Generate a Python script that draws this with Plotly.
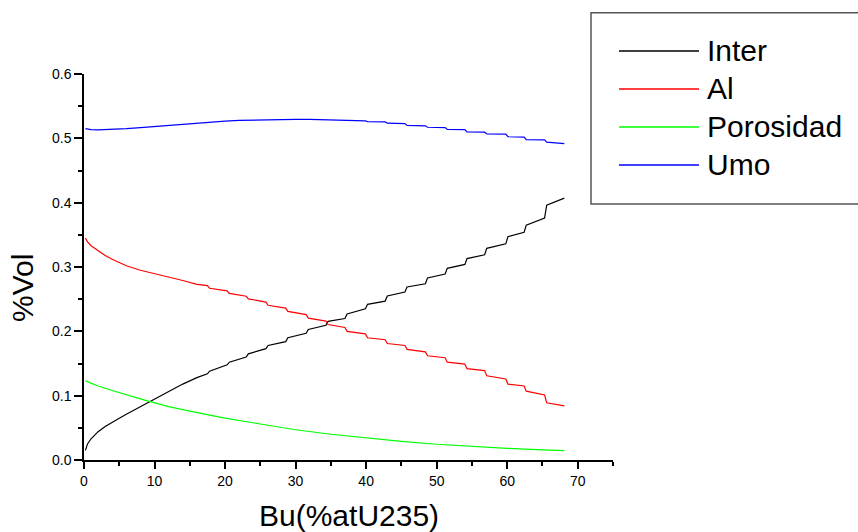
import plotly.graph_objects as go

# ---------------- data ----------------
inter_x = [0.2, 0.5, 1, 2, 3, 4, 5, 6, 8, 9, 10, 12, 14, 16,
           17.5, 17.8, 20.3, 20.6, 23.0, 23.3, 25.8, 26.1, 28.6, 28.9, 31.5, 31.8,
           34.3, 34.6, 37.0, 37.3, 39.9, 40.2, 42.7, 43.0, 45.5, 45.8, 48.4, 48.7,
           51.2, 51.5, 54.0, 54.3, 56.8, 57.1, 59.8, 60.1, 62.4, 62.7, 65.3, 65.6, 68.1]
inter_y = [0.015, 0.025, 0.033, 0.044, 0.052, 0.059, 0.065, 0.071, 0.083, 0.089, 0.095, 0.107, 0.118, 0.128,
           0.134, 0.138, 0.148, 0.152, 0.160, 0.165, 0.173, 0.178, 0.184, 0.190, 0.197, 0.203,
           0.2095, 0.2155, 0.220, 0.227, 0.235, 0.242, 0.247, 0.255, 0.261, 0.269, 0.274, 0.283,
           0.289, 0.298, 0.304, 0.313, 0.319, 0.329, 0.336, 0.347, 0.354, 0.365, 0.376, 0.396, 0.407]

al_x = [0.2, 0.5, 1, 2, 3, 4, 6, 8, 10, 12, 14, 16,
        17.5, 17.8, 20.3, 20.6, 23.0, 23.3, 25.8, 26.1, 28.6, 28.9, 31.5, 31.8,
        34.3, 34.6, 37.0, 37.3, 39.9, 40.2, 42.7, 43.0, 45.5, 45.8, 48.4, 48.7,
        51.2, 51.5, 54.0, 54.3, 56.8, 57.1, 59.8, 60.1, 62.4, 62.7, 65.3, 65.6, 68.1]
al_y = [0.345, 0.339, 0.333, 0.325, 0.318, 0.312, 0.302, 0.295, 0.290, 0.284, 0.279, 0.273,
        0.271, 0.267, 0.263, 0.259, 0.2545, 0.2505, 0.2455, 0.2405, 0.236, 0.231, 0.226, 0.2205,
        0.216, 0.2105, 0.206, 0.200, 0.196, 0.190, 0.187, 0.181, 0.178, 0.172, 0.168, 0.162,
        0.159, 0.152, 0.149, 0.142, 0.139, 0.131, 0.126, 0.118, 0.115, 0.107, 0.101, 0.089, 0.084]

por_x = [0.2, 2, 4, 6, 8, 9, 10, 12, 15, 20, 25, 30, 35, 40, 45, 50, 55, 60, 65, 68.1]
por_y = [0.123, 0.115, 0.108, 0.101, 0.095, 0.092, 0.089, 0.083, 0.076, 0.065, 0.056, 0.047,
         0.040, 0.034, 0.029, 0.0245, 0.021, 0.018, 0.0158, 0.0145]

umo_x = [0.2, 1, 2, 4, 6, 8, 10, 12, 14, 16, 18, 20, 22, 24, 26, 28, 30, 32, 34, 36, 38,
         39.9, 40.2, 42.7, 43.0, 45.5, 45.8, 48.4, 48.7, 51.2, 51.5, 54.0, 54.3,
         56.8, 57.1, 59.8, 60.1, 62.4, 62.7, 65.3, 65.6, 68.1]
umo_y = [0.515, 0.5135, 0.513, 0.5135, 0.515, 0.5168, 0.5185, 0.5205, 0.5225, 0.524, 0.5255,
         0.5268, 0.5278, 0.5285, 0.529, 0.5293, 0.5295, 0.5295, 0.529, 0.5283, 0.5276,
         0.527, 0.526, 0.5255, 0.5235, 0.523, 0.520, 0.5195, 0.5172, 0.5168, 0.5138, 0.5135, 0.510,
         0.5095, 0.5068, 0.5065, 0.5025, 0.502, 0.498, 0.4975, 0.494, 0.4918]

series_names = ["Inter", "Al", "Porosidad", "Umo"]
series_colors = ["#000000", "#FF0000", "#00FF00", "#0000FF"]
series_x = [inter_x, al_x, por_x, umo_x]
series_y = [inter_y, al_y, por_y, umo_y]

x_title = "Bu(%atU235)"
y_title = "%Vol"

# ---------------- figure ----------------
W, H = 858, 532
ML, MR, MT, MB = 84, 245, 74, 72
PW, PH = W - ML - MR, H - MT - MB
FONT = "Liberation Sans, Arial, sans-serif"

def px_x(p):
    return (p - ML) / PW

def px_y(p):
    return (H - MB - p) / PH

fig = go.Figure()
for name, color, xs, ys in zip(series_names, series_colors, series_x, series_y):
    fig.add_trace(go.Scatter(x=xs, y=ys, mode="lines", name=name,
                             line=dict(color=color, width=1.2), showlegend=False))

axis_common = dict(showline=True, linecolor="black", linewidth=1.5, ticks="outside",
                   tickcolor="black", tickwidth=1.5, showgrid=False, zeroline=False,
                   tickfont=dict(family=FONT, size=14, color="black"), mirror=False)

fig.update_xaxes(range=[0, 75], dtick=10, tick0=0, ticklen=7,
                 minor=dict(dtick=5, ticklen=4, ticks="outside", tickcolor="black", tickwidth=1.5),
                 **axis_common)
fig.update_yaxes(range=[0, 0.6], dtick=0.1, tick0=0, ticklen=8, tickformat=".1f",
                 minor=dict(dtick=0.05, ticklen=4, ticks="outside", tickcolor="black", tickwidth=1.5),
                 **axis_common)

shapes = []
annotations = []

# axis titles
annotations.append(dict(text=x_title, xref="paper", yref="paper", x=px_x(349), y=px_y(515),
                        xanchor="center", yanchor="middle", showarrow=False,
                        font=dict(family=FONT, size=30, color="black")))
annotations.append(dict(text=y_title, xref="paper", yref="paper", x=px_x(22), y=px_y(288),
                        xanchor="center", yanchor="middle", textangle=-90, showarrow=False,
                        font=dict(family=FONT, size=30, color="black")))

# legend box (drawn like the original)
shapes.append(dict(type="rect", xref="paper", yref="paper",
                   x0=px_x(591), x1=px_x(862), y0=px_y(204), y1=px_y(12.7),
                   line=dict(color="#555555", width=1.5), fillcolor="rgba(0,0,0,0)"))
item_y = [51, 89, 127, 165]
for name, color, yy in zip(series_names, series_colors, item_y):
    shapes.append(dict(type="line", xref="paper", yref="paper",
                       x0=px_x(619), x1=px_x(699), y0=px_y(yy), y1=px_y(yy),
                       line=dict(color=color, width=1.5)))
    annotations.append(dict(text=name, xref="paper", yref="paper", x=px_x(705), y=px_y(yy - 1),
                            xanchor="left", yanchor="middle", showarrow=False,
                            font=dict(family=FONT, size=30, color="black")))

fig.update_layout(width=W, height=H, margin=dict(l=ML, r=MR, t=MT, b=MB, pad=0),
                  paper_bgcolor="white", plot_bgcolor="white",
                  shapes=shapes, annotations=annotations, showlegend=False)

fig.write_html("out.html")
